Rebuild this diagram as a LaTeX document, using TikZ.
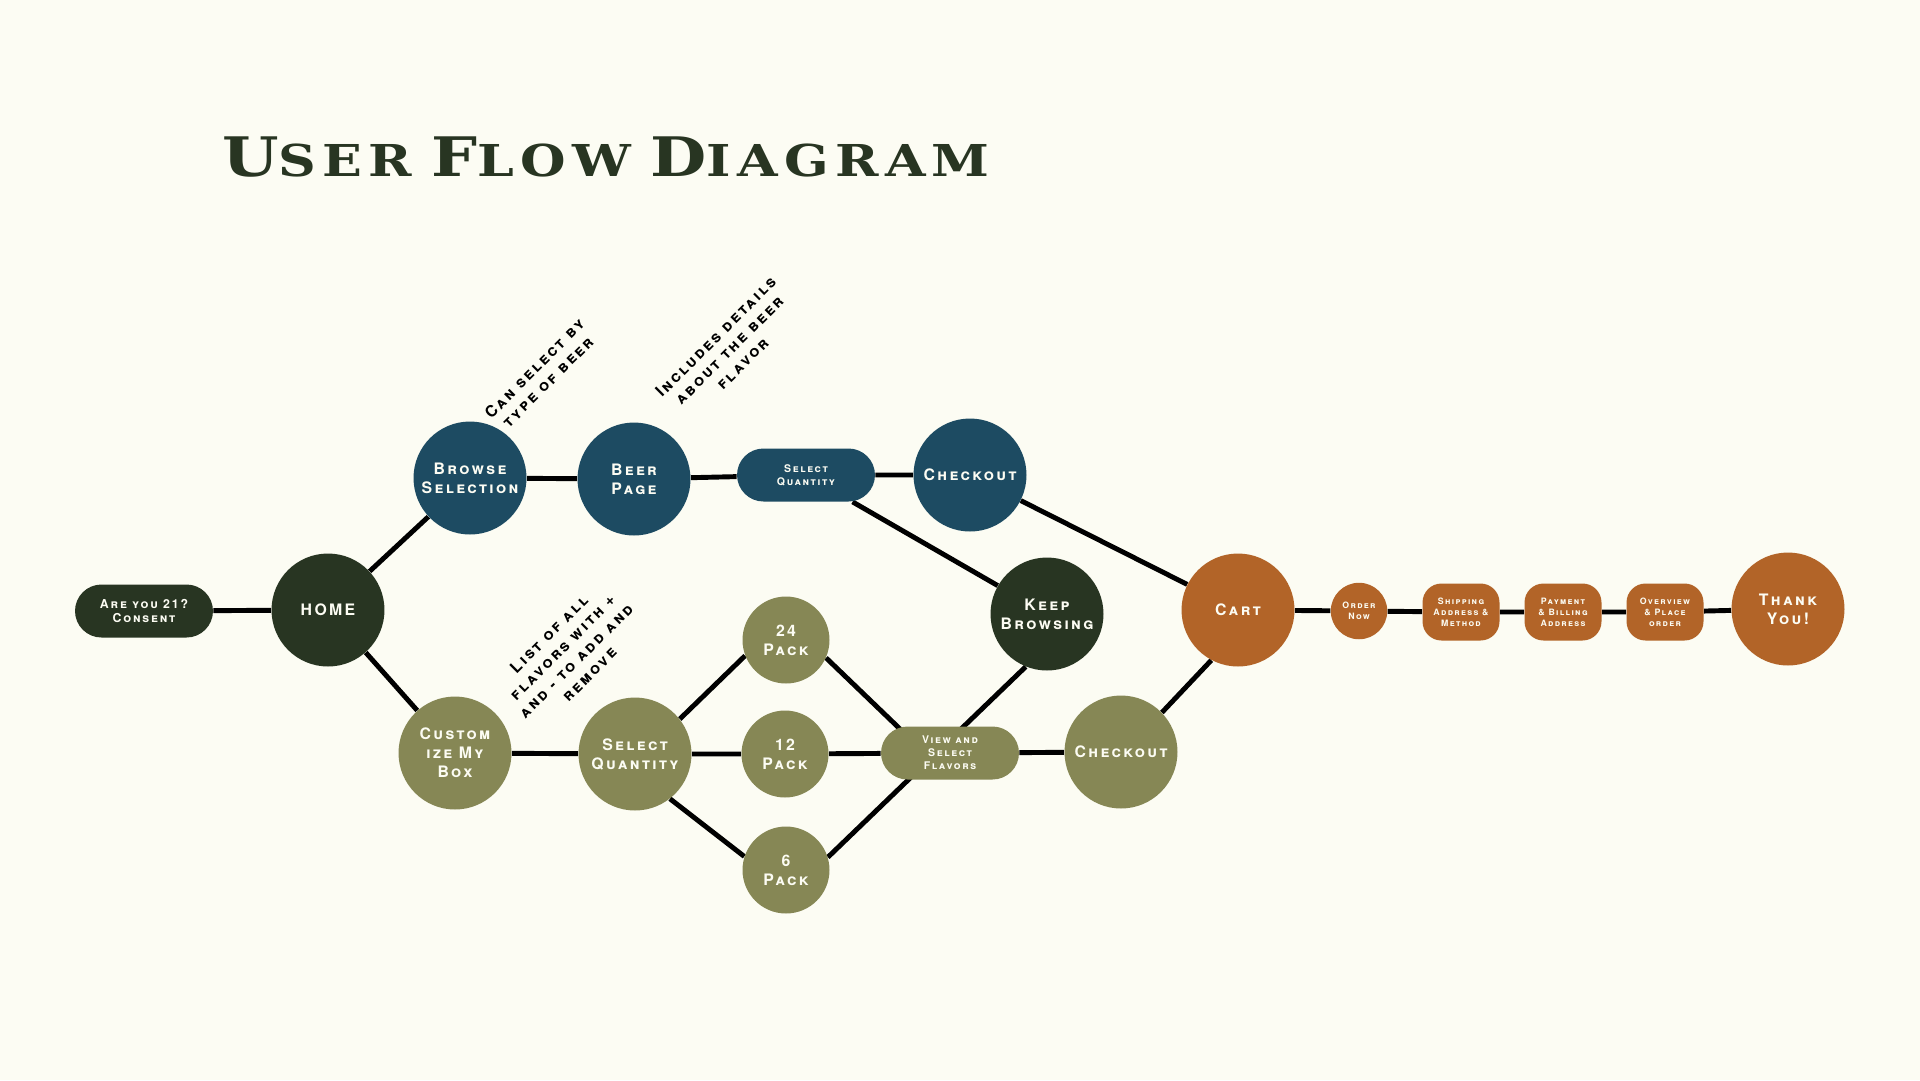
\documentclass[tikz,border=0pt]{standalone}
\usepackage{fontspec}
\setmainfont{TeX Gyre Heros}[LetterSpace=15]
\newfontfamily\titlefont{DejaVu Serif}[LetterSpace=12]
\usetikzlibrary{backgrounds,calc}

\definecolor{cream}{HTML}{FCFCF3}
\definecolor{forest}{HTML}{283522}
\definecolor{navy}{HTML}{1D4B62}
\definecolor{olive}{HTML}{868755}
\definecolor{rust}{HTML}{B26428}

% fake small caps for the title
\newcommand\titlesc[2]{#1{\fontsize{25}{25}\selectfont #2}}

\begin{document}
\begin{tikzpicture}[x=0.02cm, y=-0.02cm,
    bubble/.style={circle, minimum size=2.26cm, inner sep=0pt, text=cream, align=center,
        font=\fontsize{9}{10.8}\selectfont\bfseries\scshape},
    pack/.style={bubble, minimum size=1.74cm, fill=olive},
    pill/.style={rectangle, rounded corners=0.53cm, minimum width=2.76cm, minimum height=1.06cm,
        inner sep=0pt, text=cream, align=center, font=\fontsize{6}{7.4}\selectfont\bfseries\scshape},
    stepbox/.style={rectangle, rounded corners=0.38cm, minimum width=1.54cm, minimum height=1.14cm,
        inner sep=0pt, fill=rust, text=cream, align=center, font=\fontsize{5}{6.3}\selectfont\bfseries\scshape},
    link/.style={line width=2.8pt, black},
    note/.style={rotate=45, align=center, font=\fontsize{9}{10.8}\selectfont\bfseries\scshape}]
\useasboundingbox (0,0) rectangle (1920,1080);
% title
\node[font=\titlefont\bfseries\fontsize{31}{31}\selectfont, text=forest] (title) at (606,157)
    {\scalebox{1.19}[1]{\titlesc{U}{SER}\hspace{0.3em}\titlesc{F}{LOW}\hspace{0.3em}\titlesc{D}{IAGRAM}}};
% entry
\node[pill, fill=forest, font=\fontsize{7}{8.5}\selectfont\bfseries\scshape] (consent) at (144,611) {Are you 21?\\Consent};
\node[bubble, fill=forest] (home) at (328,610) {HOME};
% browse branch
\node[bubble, fill=navy] (browse) at (470,478) {Browse\\Selection};
\node[bubble, fill=navy] (beer) at (634,479) {Beer\\Page};
\node[pill, fill=navy] (selq) at (806,475) {Select\\Quantity};
\node[bubble, fill=navy] (chk1) at (970,475) {Checkout};
\node[bubble, fill=forest] (keep) at (1047,614) {Keep\\Browsing};
% custom box branch
\node[bubble, fill=olive] (custom) at (455,753) {Custom\\ize My\\Box};
\node[bubble, fill=olive] (selc) at (635,754) {Select\\Quantity};
\node[pack] (p24) at (786,640) {24\\Pack};
\node[pack] (p12) at (785,754) {12\\Pack};
\node[pack] (p6) at (786,870) {6\\Pack};
\node[pill, fill=olive] (view) at (950,753) {View and\\Select\\Flavors};
\node[bubble, fill=olive] (chk2) at (1121,752) {Checkout};
% order steps
\node[bubble, fill=rust] (cart) at (1238,610) {Cart};
\node[stepbox, circle, minimum size=1.13cm] (order) at (1359,611) {Order\\Now};
\node[stepbox] (ship) at (1461,612) {Shipping\\Address \&\\Method};
\node[stepbox] (pay) at (1563,612) {Payment\\\& Billing\\Address};
\node[stepbox] (over) at (1665,612) {Overview\\\& Place\\order};
\node[bubble, fill=rust] (thanks) at (1788,609) {Thank\\You!};
% notes
\node[note] (notebrowse) at (541,375) {Can select by\\type of beer};
\node[note] (notebeer) at (729,350) {Includes details\\about the beer\\flavor};
\node[note] (notecustom) at (569,654) {List of all\\flavors with +\\and - to add and\\remove};
% links
\begin{pgfonlayer}{background}
\fill[cream] (0,0) rectangle (1920,1080);
\draw[link] (consent) -- (home);
\draw[link] (home) -- (browse);
\draw[link] (home) -- (custom);
\draw[link] (browse) -- (beer) -- (selq) -- (chk1) -- (cart);
\draw[link] (selq) -- (keep);
\draw[link] (custom) -- (selc) -- (p12) -- (view) -- (chk2);
\draw[link] (selc.38) -- (p24.201);
\draw[link] (selc.-52) -- (p6.162);
\draw[link] (p24.-24) -- ($(view.center)+(-25,0)$);
\draw[link] (p6.17) -- (keep.248);
\draw[link] (chk2.44) -- (cart.242);
\draw[link] (cart) -- (order) -- (ship) -- (pay) -- (over) -- (thanks);
\end{pgfonlayer}
\end{tikzpicture}
\end{document}
